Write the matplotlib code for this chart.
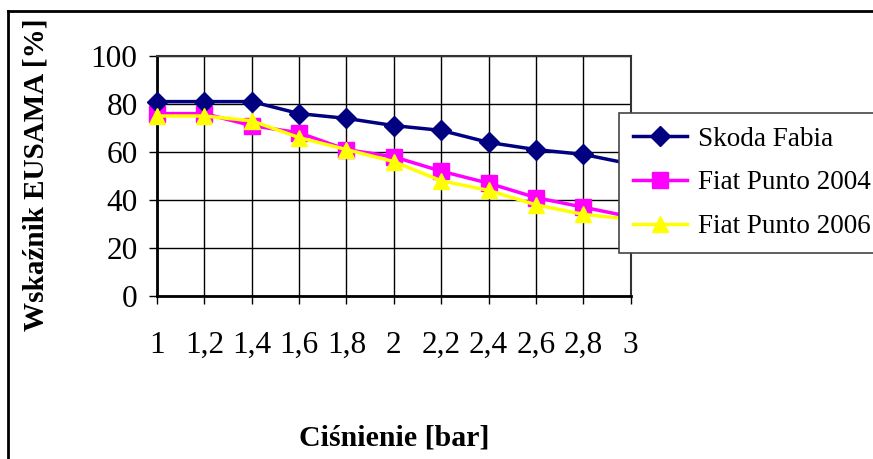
import matplotlib.pyplot as plt
from matplotlib.lines import Line2D

plt.rcParams['font.family'] = ['Liberation Serif', 'DejaVu Serif']

# Data
cisnienie = ['1', '1,2', '1,4', '1,6', '1,8', '2', '2,2', '2,4', '2,6', '2,8', '3']
skoda_fabia = [81, 81, 81, 76, 74, 71, 69, 64, 61, 59, 55]
fiat_punto_2004 = [76, 76, 71, 68, 61, 58, 52, 47, 41, 37, 33]
fiat_punto_2006 = [75, 75, 73, 66, 61, 56, 48, 44, 38, 34, 32]
y_ticks = [0, 20, 40, 60, 80, 100]

W, H = 873, 459
fig = plt.figure(figsize=(W / 100, H / 100), dpi=100)
ax = fig.add_axes([157 / W, 1 - 296 / H, (630.7 - 157) / W, (296 - 56) / H])

x = list(range(len(cisnienie)))

# Series
ax.plot(x, skoda_fabia, color='#000080', lw=2.5, marker='D', ms=10,
        label='Skoda Fabia', clip_on=False, zorder=5)
ax.plot(x, fiat_punto_2004, color='#FF00FF', lw=2.5, marker='s', ms=11,
        label='Fiat Punto 2004', clip_on=False, zorder=4)
ax.plot(x, fiat_punto_2006, color='#FFFF00', lw=2.5, marker='^', ms=12,
        label='Fiat Punto 2006', clip_on=False, zorder=6)

# Axes and grid
ax.set_xlim(0, len(cisnienie) - 1)
ax.set_ylim(0, 100)
ax.set_xticks(x)
ax.set_xticklabels(cisnienie)
ax.set_yticks(y_ticks)
ax.grid(True, color='black', lw=1)
ax.set_axisbelow(True)
ax.tick_params(axis='both', labelsize=22.5, direction='out', length=6, width=1)
ax.tick_params(axis='x', pad=19)
ax.tick_params(axis='y', pad=8)
for s in ['left', 'bottom']:
    ax.spines[s].set_linewidth(2)
for s in ['top', 'right']:
    ax.spines[s].set_linewidth(1.5)
    ax.spines[s].set_color('#333333')

# Axis titles
fig.text(36 / W, 1 - 175 / H, 'Wskaźnik EUSAMA [%]', rotation=90,
         ha='center', va='center', fontsize=21, fontweight='bold')
fig.text(394 / W, 1 - 438 / H, 'Ciśnienie [bar]', ha='center', va='center',
         fontsize=21.5, fontweight='bold')

# Legend (opaque, drawn over the lines)
leg = ax.legend(loc='upper left', bbox_to_anchor=(619 / W, 1 - 113 / H),
                bbox_transform=fig.transFigure, fontsize=19.5, frameon=True,
                fancybox=False, edgecolor='#444444', framealpha=1,
                borderaxespad=0, handlelength=2.0, labelspacing=0.7,
                borderpad=0.5, handletextpad=0.4)
leg.get_frame().set_linewidth(1.2)
leg.set_zorder(20)

# Outer chart border (cropped)
fig.add_artist(Line2D([8 / W, 8 / W], [0, 1 - 11 / H], color='black', lw=2,
                      transform=fig.transFigure))
fig.add_artist(Line2D([8 / W, 1], [1 - 11 / H, 1 - 11 / H], color='black', lw=2,
                      transform=fig.transFigure))

fig.savefig('out.png', dpi=100)
